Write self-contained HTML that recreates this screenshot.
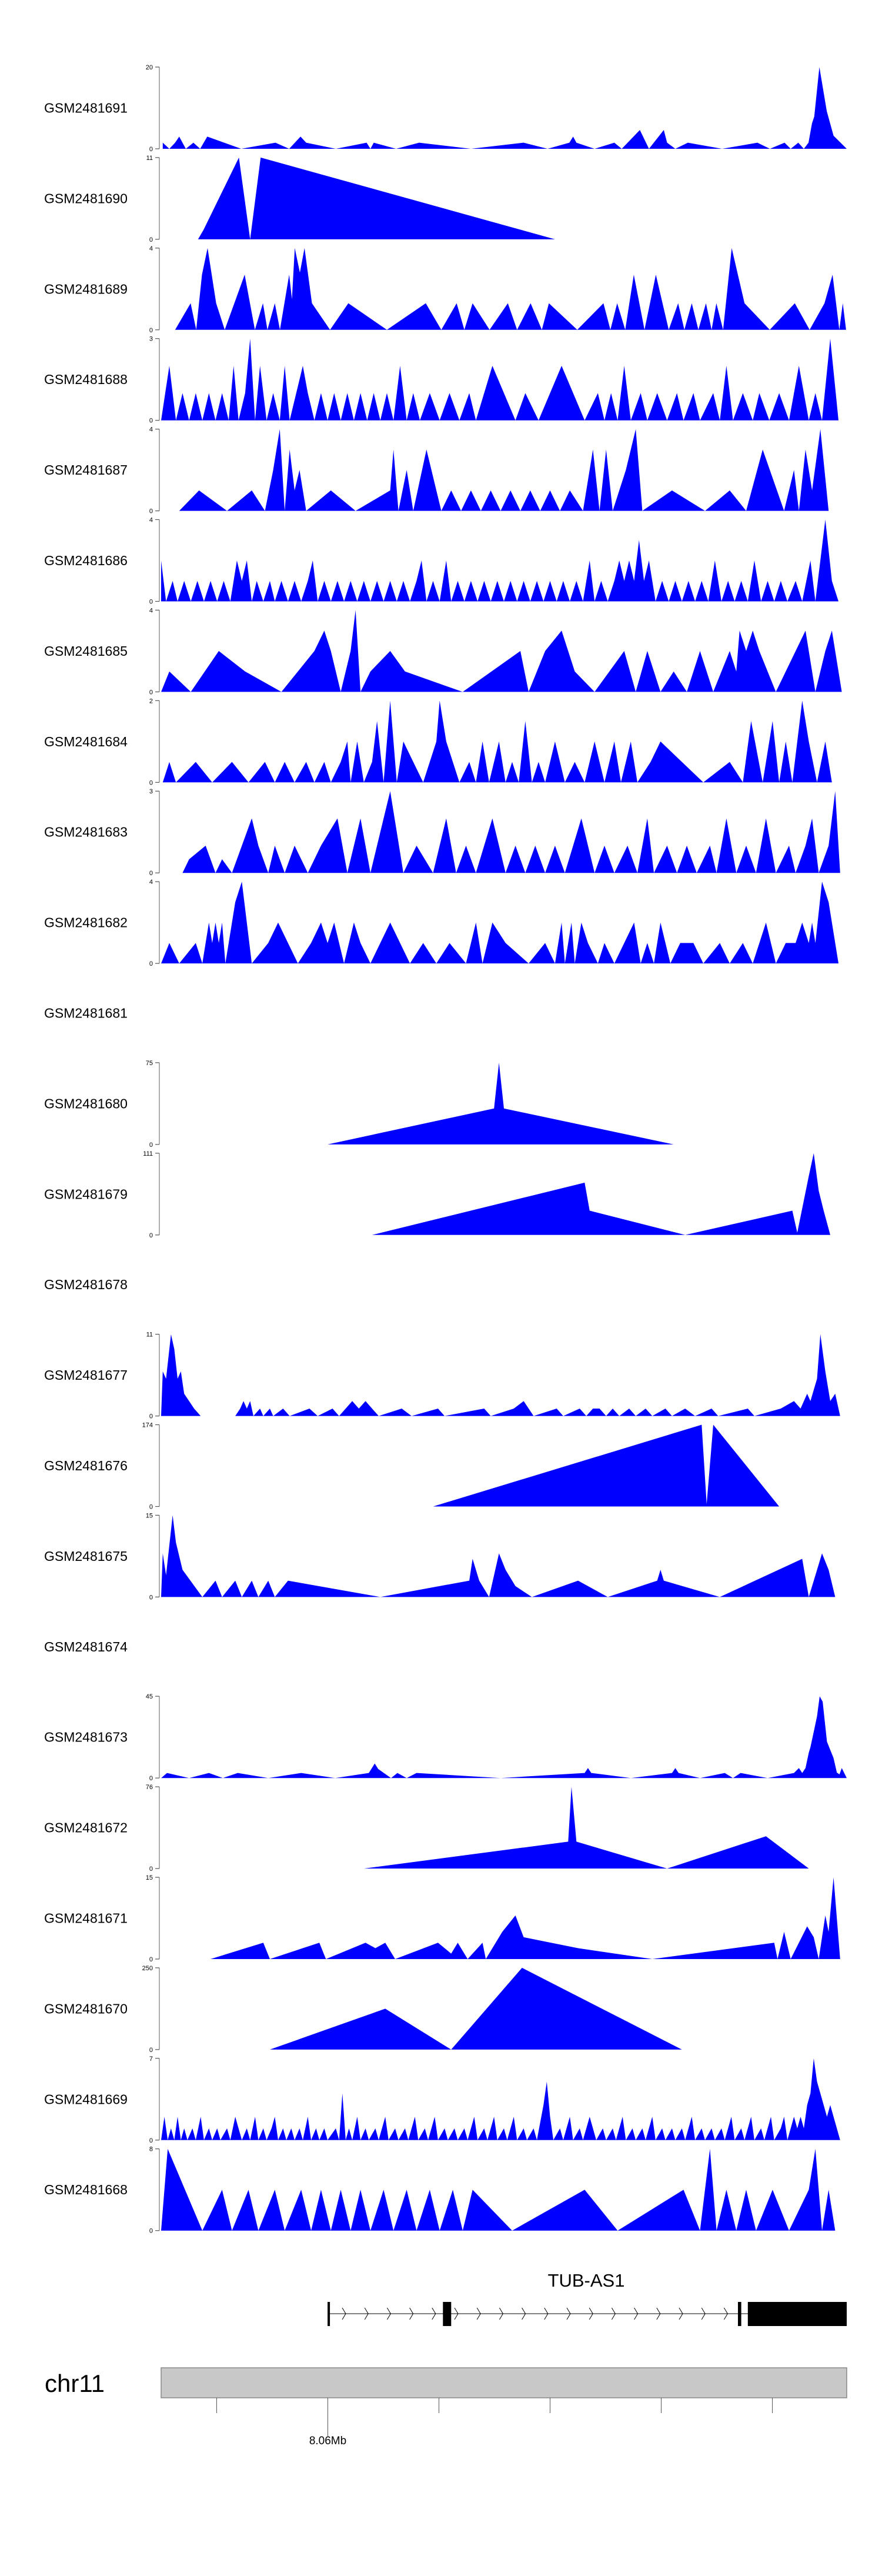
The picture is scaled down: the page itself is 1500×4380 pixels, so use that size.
<!DOCTYPE html>
<html><head><meta charset="utf-8"><style>
html,body{margin:0;padding:0;background:#fff;}
svg{display:block;font-family:"Liberation Sans",sans-serif;}
</style></head><body>
<svg id="chart" width="1500" height="4380" viewBox="0 0 1500 4380" xmlns="http://www.w3.org/2000/svg"></svg>
<script>
// ---- data ----
const sampleNames = ["GSM2481691","GSM2481690","GSM2481689","GSM2481688","GSM2481687","GSM2481686","GSM2481685","GSM2481684","GSM2481683","GSM2481682","GSM2481681","GSM2481680","GSM2481679","GSM2481678","GSM2481677","GSM2481676","GSM2481675","GSM2481674","GSM2481673","GSM2481672","GSM2481671","GSM2481670","GSM2481669","GSM2481668"];
const axisMax = [20,11,4,3,4,4,4,2,3,4,null,75,111,null,11,174,15,null,45,76,15,250,7,8];
// coverage: flat [bin, value, ...]; bin = 14.8 bp genomic bins from region start
const cov0 = [1,1.5,5,0,8.5,1.5,11,3,15,0,19.6,1.5,23.7,0,28,3,48.6,0,69.4,1.5,77.7,0,84.6,3,88,1.5,106,0,124.7,1.5,127,0,129,1.5,142.6,0,156.5,1.5,188,0,220,1.5,234.5,0,247.7,1.5,250,3,252,1.5,263,0,275,1.5,279.5,0,290.5,4.6,296,0,305,4.6,307,1.5,312,0,319.6,1.5,340.4,0,361.8,1.5,369.4,0,378.3,1.5,382,0,386.6,1.5,390,0,392.8,1.5,394.9,6.2,396.3,7.9,399.4,20,403.9,9.2,408,3.2,416,0];
const cov1 = [22.4,0,25.8,1.3,47.2,11,54,0,60.4,11,239,0];
const cov2 = [8.5,0,17.9,1.3,21.3,0,24.8,2.7,28.2,4,33.4,1.3,38.6,0,50.7,2.7,56.9,0,61.8,1.3,64.5,0,69,1.3,72.1,0,77.7,2.7,79.4,1.5,81.1,4,84.2,2.8,87,4,91.5,1.3,102.5,0,113.6,1.3,137,0,160.6,1.3,170,0,179.3,1.3,184,0,189,1.3,199.3,0,210.4,1.3,216,0,224.2,1.3,231,0,235.3,1.3,252.5,0,268.4,1.3,272.6,0,276.7,1.3,281.6,0,286.8,2.7,293.3,0,300.2,2.7,308,0,313.7,1.3,317.5,0,322,1.3,326,0,330.6,1.3,334,0,336.9,1.3,341,0,346.2,4,354,1.3,369.3,0,384.5,1.3,393.5,0,402.5,1.3,407.4,2.7,411.5,0,413.6,1.3,415.6,0];
const cov3 = [0,0,5,2,9,0,13,1,17,0,21,1,25,0,29,1,33,0,37,1,41,0,44,2,47,0,51,1,54,3,57,0,60,2,64,0,68,1,72,0,75,2,78,0,82,1,86,2,89,1,93,0,97,1,101,0,105,1,109,0,113,1,117,0,121,1,125,0,129,1,133,0,137,1,141,0,145,2,149,0,153,1,157,0,163,1,169,0,175,1,181,0,187,1,191,0,201,2,215,0,221,1,229,0,243,2,257,0,265,1,269,0,273,1,277,0,281,2,285,0,291,1,295,0,301,1,307,0,313,1,317,0,323,1,327,0,335,1,339,0,343,2,347,0,353,1,359,0,363,1,369,0,375,1,381,0,387,2,393,0,397,1,401,0,406,3,411,0];
const cov4 = [11,0,23,1,40,0,55,1,63,0,68,2,72,4,75,0,78,3,81,1,84,2,88,0,103,1,118,0,139,1,141,3,144,0,149,2,153,0,161,3,170,0,176,1,182,0,188,1,194,0,200,1,206,0,212,1,218,0,224,1,230,0,236,1,242,0,248,1,256,0,262,3,266,0,270,3,274,0,282,2,288,4,292,0,310,1,330,0,345,1,355,0,365,3,378,0,384,2,387,0,391,3,395,1,400,4,405,0];
const cov5 = [0,2,3,0,7,1,10,0,14,1,18,0,22,1,26,0,30,1,34,0,38,1,42,0,46,2,49,1,52,2,55,0,58,1,62,0,66,1,69,0,73,1,77,0,81,1,85,0,89,1,92,2,95,0,99,1,103,0,107,1,111,0,115,1,119,0,123,1,127,0,131,1,135,0,139,1,143,0,147,1,151,0,155,1,158,2,161,0,165,1,169,0,173,2,176,0,180,1,184,0,188,1,192,0,196,1,200,0,204,1,208,0,212,1,216,0,220,1,224,0,228,1,232,0,236,1,240,0,244,1,248,0,252,1,256,0,260,2,263,0,267,1,271,0,275,1,278,2,281,1,284,2,287,1,290,3,293,1,296,2,300,0,304,1,308,0,312,1,316,0,320,1,324,0,328,1,332,0,336,2,340,0,344,1,348,0,352,1,356,0,360,2,364,0,368,1,372,0,376,1,380,0,385,1,389,0,394,2,397,0,403,4,407,1,411,0];
const cov6 = [0,0,5,1,18,0,35,2,51,1,73,0,93,2,99,3,103,2,109,0,115,2,118,4,121,0,127,1,139,2,148,1,183,0,218,2,223,0,233,2,243,3,251,1,263,0,281,2,288,0,295,2,303,0,311,1,319,0,327,2,335,0,345,2,349,1,351,3,355,2,359,3,363,2,373,0,391,3,397,0,403,2,407,3,413,0];
const cov7 = [1,0,5,0.5,9,0,21,0.5,31,0,43,0.5,53,0,63,0.5,69,0,75,0.5,81,0,88,0.5,93,0,99,0.5,103,0,109,0.5,113,1,115,0,119,1,123,0,128,0.5,131,1.5,135,0,139,2,143,0,147,1,153,0.5,159,0,167,1,169,2,173,1,181,0,187,0.5,191,0,195,1,199,0,205,1,209,0,213,0.5,217,0,221,1.5,225,0,229,0.5,233,0,239,1,245,0,251,0.5,257,0,263,1,269,0,275,1,279,0,285,1,289,0,297,0.5,303,1,329,0,345,0.5,353,0,358,1.5,365,0,371,1.5,375,0,379,1,383,0,389,2,393,1,398,0,403,1,407,0];
const cov8 = [13,0,17,0.5,27,1,33,0,37,0.5,43,0,55,2,59,1,65,0,69,1,75,0,81,1,89,0,97,1,107,2,113,0,121,2,127,0,139,3,147,0,155,1,165,0,173,2,179,0,185,1,191,0,201,2,209,0,215,1,221,0,227,1,233,0,239,1,245,0,255,2,263,0,269,1,275,0,283,1,289,0,295,2,299,0,307,1,313,0,319,1,325,0,333,1,337,0,343,2,349,0,355,1,361,0,367,2,373,0,381,1,385,0,391,1,395,2,399,0,405,1,409,3,412,0];
const cov9 = [0,0,5,1,11,0,21,1,25,0,29,2,31,1,33,2,35,1,37,2,39,0,41,1,45,3,49,4,55,0,65,1,71,2,77,1,83,0,91,1,97,2,101,1,105,2,111,0,117,2,121,1,127,0,139,2,151,0,159,1,167,0,175,1,185,0,191,2,195,0,201,2,209,1,223,0,233,1,239,0,243,2,245,0,249,2,251,0,255,2,259,1,265,0,269,1,275,0,281,1,287,2,291,0,295,1,299,0,303,2,309,0,315,1,323,1,329,0,339,1,345,0,353,1,359,0,367,2,373,0,379,1,385,1,389,2,393,1,395,2,397,1,401,4,405,3,411,0];
const cov10 = [];
const cov11 = [101,0,202,33,205,75,208,33,311,0];
const cov12 = [128,0,257,71,260,33,318,0,383,33,386,3,393,80,396,111,399,60,402,33,406,0];
const cov13 = [];
const cov14 = [0,0,1,6,3,5,6,11,8,9,10,5,12,6,14,3,17,2,20,1,24,0,45,0,48,1,50,2,52,1,54,2,56,0,60,1,62,0,66,1,68,0,74,1,78,0,90,1,95,0,104,1,108,0,112,1,116,2,120,1,124,2,128,1,132,0,146,1,152,0,168,1,172,0,196,1,200,0,214,1,220,2,226,0,240,1,244,0,254,1,258,0,262,1,266,1,270,0,274,1,278,0,284,1,288,0,294,1,298,0,306,1,310,0,318,1,324,0,334,1,338,0,356,1,360,0,376,1,384,2,388,1,392,3,394,2,398,5,400,11,403,6,406,2,409,3,412,0];
const cov15 = [165,0,328,174,331,5,335,174,375,0];
const cov16 = [0,0,1,8,3,4,7,15,9,10,13,5,25,0,33,3,37,0,45,3,49,0,55,3,59,0,65,3,69,0,77,3,133,0,187,3,189,7,193,3,199,0,205,8,209,5,215,2,225,0,253,3,271,0,301,3,303,5,305,3,339,0,389,7,393,0,401,8,405,5,409,0];
const cov17 = [];
const cov18 = [0,0,3.6,2.8,17,0,29,2.8,37.5,0,46.5,2.8,65,0,85,2.8,105.6,0,126,2.8,129.6,8,131.7,5,139.5,0,143.4,2.8,149,0,155,2.8,206,0,257,2.8,259,5.5,261,2.8,285,0,310,2.8,312,5.5,314,2.8,327,0,342,2.8,347,0,351.6,2.8,368,0,384,2.8,387,5.5,389,2.8,391,5.5,393,14,394,17,396.6,28,398,34,399.6,45,401.4,42,404,20,408,11,410,3,411.6,2,413,5.5,416,0];
const cov19 = [123,0,247,25,249,76,252,25,307,0,367,30,393,0];
const cov20 = [30,0,62,3,66,0,96,3,100,0,124,3,130,2,136,3,142,0,168,3,176,1,180,3,186,0,195,3,197,0,207,5,215,8,220,4,253,2,298,0,372,3,374,0,378,5,382,0,392,6,396,4,399,0,403,8,405,5,408,15,412,0];
const cov21 = [66,0,136,125,176,0,219,250,316,0];
const cov22 = [0,0,2,2,4,0,6,1,8,0,10,2,12,0,14,1,16,0,19,1,21,0,24,2,26,0,29,1,31,0,34,1,36,0,40,1,42,0,45,2,47,1,49,0,52,1,54,0,57,2,59,0,62,1,64,0,67,1,69,2,71,0,74,1,76,0,79,1,81,0,84,1,86,0,89,2,91,0,94,1,96,0,99,1,101,0,106,1,108,0,110,4,112,0,114,1,116,0,119,2,121,0,124,1,126,0,130,1,132,0,136,2,138,0,142,1,144,0,148,1,150,0,154,2,156,0,160,1,162,0,166,2,168,0,172,1,174,0,178,1,180,0,184,1,186,0,190,2,192,0,196,1,198,0,202,2,204,0,208,1,210,0,214,2,216,0,220,1,222,0,226,1,228,0,232,3,234,5,236,2,238,0,242,1,244,0,248,2,250,0,254,1,256,0,260,2,262,1,264,0,268,1,270,0,274,1,276,0,280,2,282,0,286,1,288,0,292,1,294,0,298,2,300,0,304,1,306,0,310,1,312,0,316,1,318,0,322,2,324,0,328,1,330,0,334,1,336,0,340,1,342,0,346,2,348,0,352,1,354,0,358,2,360,0,364,1,366,0,370,2,372,0,376,1,378,2,380,0,384,2,386,1,388,2,390,1,392,3,394,4,396,7,398,5,400,4,402,3,404,2,406,3,408,2,410,1,412,0];
const cov23 = [0,0,4,8,25,0,37,4,43,0,53,4,59,0,69,4,75,0,85,4,91,0,97,4,103,0,109,4,115,0,121,4,127,0,135,4,141,0,149,4,155,0,163,4,169,0,177,4,183,0,189,4,213,0,257,4,277,0,317,4,327,0,333,8,337,0,343,4,349,0,355,4,361,0,371,4,381,0,393,4,397,8,401,0,405,4,409,0];
const coverage = [cov0,cov1,cov2,cov3,cov4,cov5,cov6,cov7,cov8,cov9,cov10,cov11,cov12,cov13,cov14,cov15,cov16,cov17,cov18,cov19,cov20,cov21,cov22,cov23];
// gene model (bins)
const geneName = "TUB-AS1";
const geneStart = 102, geneEnd = 416;
const exonStarts = [101, 171, 350, 356];
const exonEnds   = [102, 176, 352, 416];
// genome axis (kb)
const axisTicksKb = [8059, 8060, 8061, 8062, 8063, 8064];
const axisLabelKb = 8060;
const axisLabelText = "8.06Mb";
const chromName = "chr11";

// ---- scales ----
const NS = "http://www.w3.org/2000/svg";
const svg = document.getElementById('chart');
const X0 = 274, X1 = 1440, BINS = 416;
const xBin = b => X0 + b * (X1 - X0) / BINS;
const KB0 = 8058.5, KBPX = 189;
const xKb = kb => X0 + (kb - KB0) * KBPX;
const TOP0 = 114, PITCH = 153.9, H = 139;
function mk(tag, attrs, parent){ const e=document.createElementNS(NS,tag); for(const k in attrs) e.setAttribute(k,attrs[k]); (parent||svg).appendChild(e); return e; }

sampleNames.forEach((name, i) => {
  const top = TOP0 + PITCH * i, base = top + H;
  const g = mk('g', {});
  
  
  const lab = mk('text', {x: 75, y: top + H/2 + 8, 'font-size': 23, fill: '#000'}, g);
  lab.textContent = name;
  
  
  const mx = axisMax[i];
  if (mx === null) return;
  const yv = v => base - v / mx * H;
  const ax = mk('line', {x1: 271, x2: 271, y1: top, y2: base, stroke: '#777', 'stroke-width': 1.2}, g);
  
  
  [[mx, top], [0, base]].forEach(([v, y]) => {
    mk('line', {x1: 264, x2: 271, y1: y, y2: y, stroke: '#555', 'stroke-width': 1.2}, g);
    const t = mk('text', {x: 260, y: y + 4, 'font-size': 11, 'text-anchor': 'end', fill: '#000'}, g);
    t.textContent = v;
    
    
  });
  const d = coverage[i];
  if (!d.length) return;
  let p = 'M' + xBin(d[0]).toFixed(1) + ',' + base;
  for (let k = 0; k < d.length; k += 2) p += ' L' + xBin(d[k]).toFixed(1) + ',' + yv(d[k+1]).toFixed(1);
  p += ' L' + xBin(d[d.length-2]).toFixed(1) + ',' + base + ' Z';
  const area = mk('path', {d: p, fill: '#0000ff', stroke: 'none'}, g);
  
  
});

// gene track
const gg = mk('g', {});


const gl = mk('text', {x: 997, y: 3888, 'font-size': 31, 'text-anchor': 'middle', fill: '#000'}, gg);
gl.textContent = geneName;


const gY = 3934;
mk('line', {x1: xBin(geneStart), x2: xBin(geneEnd), y1: gY, y2: gY, stroke: '#000', 'stroke-width': 1}, gg);
for (let cx = 585; cx < 1250; cx += 38.2) {
  mk('polyline', {points: `${cx-3},${gY-10} ${cx+3},${gY} ${cx-3},${gY+10}`, fill: 'none', stroke: '#000', 'stroke-width': 1}, gg);
}
exonStarts.forEach((s, k) => {
  const x1 = xBin(s), x2 = Math.max(xBin(exonEnds[k]), x1 + 4);
  const r = mk('rect', {x: x1, y: 3914, width: x2 - x1, height: 41, fill: '#000'}, gg);
  
  
});

// ideogram / axis
const ig = mk('g', {});


const cl = mk('text', {x: 76, y: 4067, 'font-size': 42, fill: '#000'}, ig);
cl.textContent = chromName;


const bar = mk('rect', {x: X0, y: 4026, width: X1 - X0, height: 51, fill: '#c8c8c8', stroke: '#888', 'stroke-width': 1.5}, ig);


axisTicksKb.forEach(kb => {
  const x = xKb(kb);
  const long = kb === axisLabelKb;
  mk('line', {x1: x, x2: x, y1: 4077, y2: long ? 4142 : 4103, stroke: '#555', 'stroke-width': 1}, ig);
});
const al = mk('text', {x: xKb(axisLabelKb), y: 4156, 'font-size': 19, 'text-anchor': 'middle', fill: '#000'}, ig);
al.textContent = axisLabelText;


</script>
</body></html>
